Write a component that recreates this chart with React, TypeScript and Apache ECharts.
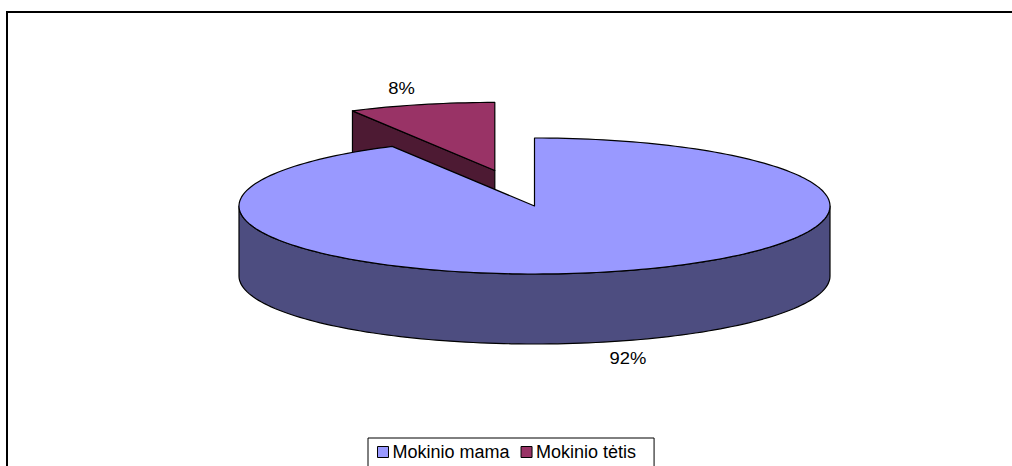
import React, { useEffect, useRef } from 'react';
import * as echarts from 'echarts';

const CATEGORIES = ['Mokinio mama', 'Mokinio tėtis'];
const VALUES = [92, 8];
const TOP_COLORS = ['#9999FF', '#993366'];
const SIDE_COLORS = ['#4D4D80', '#4D1A33'];
const EXPLODE = [0, 0.54];

const TOTAL = VALUES.reduce((a, b) => a + b, 0);

const CX = 534.5;
const CY = 206;
const RX = 295.5;
const RY = 68;
const DEPTH = 70;
const D2R = Math.PI / 180;

function pt(cx: number, cy: number, a: number, rx = RX, ry = RY): number[] {
  return [cx + rx * Math.sin(a * D2R), cy - ry * Math.cos(a * D2R)];
}

function arc(cx: number, cy: number, a0: number, a1: number, dy = 0): number[][] {
  const steps = Math.max(2, Math.ceil(Math.abs(a1 - a0) / 1.5));
  const out: number[][] = [];
  for (let k = 0; k <= steps; k++) {
    const a = a0 + ((a1 - a0) * k) / steps;
    const p = pt(cx, cy, a);
    out.push([p[0], p[1] + dy]);
  }
  return out;
}

function makeRenderItem(i: number) {
  return (params: any, api: any) => {
    const v = api.value(0);
    let start = 0;
    for (let j = 0; j < i; j++) start += VALUES[j];
    const a0 = (start / TOTAL) * 360;
    const a1 = ((start + v) / TOTAL) * 360;
    const mid = (a0 + a1) / 2;
    const cx = CX + EXPLODE[i] * RX * Math.sin(mid * D2R);
    const cy = CY - EXPLODE[i] * RY * Math.cos(mid * D2R);
    const stroke = { stroke: '#000', lineWidth: 1.2, lineJoin: 'round' };
    const children: any[] = [];
    const radial = (a: number) => {
      const p = pt(cx, cy, a);
      return [[cx, cy], [p[0], p[1]], [p[0], p[1] + DEPTH], [cx, cy + DEPTH]];
    };
    if (Math.sin(a0 * D2R) < -1e-6) {
      children.push({ type: 'polygon', shape: { points: radial(a0) }, style: { fill: SIDE_COLORS[i], ...stroke } });
    }
    if (Math.sin(a1 * D2R) > 1e-6) {
      children.push({ type: 'polygon', shape: { points: radial(a1) }, style: { fill: SIDE_COLORS[i], ...stroke } });
    }
    [[90, 270], [450, 630]].forEach(([L, R]) => {
      const s = Math.max(a0, L);
      const e = Math.min(a1, R);
      if (e > s) {
        const pts = arc(cx, cy, s, e).concat(arc(cx, cy, e, s, DEPTH));
        children.push({ type: 'polygon', shape: { points: pts }, style: { fill: SIDE_COLORS[i], ...stroke } });
      }
    });
    const topPts = [[cx, cy]].concat(arc(cx, cy, a0, a1));
    children.push({ type: 'polygon', shape: { points: topPts }, style: { fill: TOP_COLORS[i], ...stroke } });
    const lp = pt(cx, cy, mid, RX * 1.27, RY * 1.25);
    if (Math.cos(mid * D2R) < 0) lp[1] += DEPTH;
    children.push({
      type: 'text',
      x: lp[0],
      y: lp[1],
      scaleX: 1.15,
      style: {
        text: Math.round((v / TOTAL) * 100) + '%',
        fill: '#000',
        font: '16px "Liberation Sans", Arial, sans-serif',
        align: 'center',
        verticalAlign: 'middle',
      },
    });
    return { type: 'group', children };
  };
}

export default function App() {
  const ref = useRef<HTMLDivElement>(null);
  useEffect(() => {
    document.body.style.margin = '0';
    if (!ref.current) return;
    const chart = echarts.init(ref.current, null, { renderer: 'svg' });
    chart.setOption({
      animation: false,
      backgroundColor: '#fff',
      color: TOP_COLORS,
      graphic: [
        {
          type: 'rect',
          silent: true,
          z: -10,
          shape: { x: 7, y: 12, width: 1100, height: 520 },
          style: { fill: 'none', stroke: '#000', lineWidth: 2 },
        },
      ],
      legend: {
        data: CATEGORIES,
        left: 368,
        top: 438,
        orient: 'horizontal',
        icon: 'rect',
        itemWidth: 11,
        itemHeight: 11,
        itemGap: 11,
        padding: [5, 18, 14, 9],
        borderColor: '#000',
        borderWidth: 1,
        backgroundColor: '#fff',
        itemStyle: { borderColor: '#000', borderWidth: 1 },
        textStyle: { fontFamily: '"Liberation Sans", Arial, sans-serif', fontSize: 18, color: '#000', padding: [0, 0, 0, -1] },
      },
      series: CATEGORIES.map((name, i) => ({
        type: 'custom',
        name,
        coordinateSystem: 'none',
        z: i === 0 ? 3 : 2,
        itemStyle: { color: TOP_COLORS[i] },
        data: [[VALUES[i]]],
        renderItem: makeRenderItem(i),
      })),
    });
    return () => chart.dispose();
  }, []);
  return <div ref={ref} style={{ width: 1012, height: 466 }} />;
}
